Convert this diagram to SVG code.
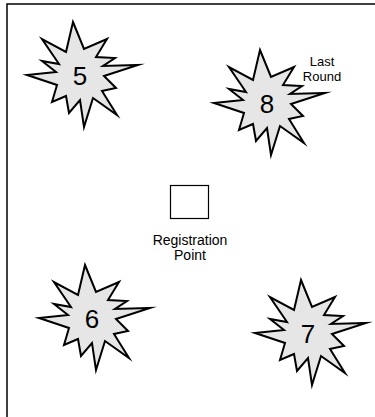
<svg xmlns="http://www.w3.org/2000/svg" width="375" height="417" viewBox="0 0 375 417">
<style>
.star{fill:#e6e6e6;stroke:#000;stroke-width:2;stroke-linejoin:miter;stroke-miterlimit:20}
.num{font-family:"Liberation Sans",Arial,sans-serif;font-size:26px;text-anchor:middle;fill:#000}
.lbl{font-family:"Liberation Sans",Arial,sans-serif;font-size:13px;text-anchor:middle;fill:#000}
.reg{font-family:"Liberation Sans",Arial,sans-serif;font-size:14px;text-anchor:middle;fill:#000}
</style>
<defs>
<path id="burst" d="M-7,-53 L4,-26 L27,-36 L16,-18 L35,-17 L23,-9 L58,-10 L24,1 L36,13 L22,16 L37,40 L13,23 L4,52 L0,25 L-11,38 L-14,21 L-28,27 L-23,10 L-53,0 L-24,-3 L-38,-14 L-21,-11 L-38,-36 L-14,-23 Z"/>
</defs>
<rect x="7" y="4" width="400" height="440" fill="#fff" stroke="#000" stroke-width="1.5"/>
<g id="connectors"></g>
<g id="n5"><use href="#burst" class="star" transform="translate(80,75)"/><text class="num" x="80" y="84.5">5</text></g>
<g id="n8"><use href="#burst" class="star" transform="translate(267,103)"/><text class="num" x="267" y="112.5">8</text></g>
<g id="n6"><use href="#burst" class="star" transform="translate(92,318)"/><text class="num" x="92" y="327.5">6</text></g>
<g id="n7"><use href="#burst" class="star" transform="translate(308,333)"/><text class="num" x="308" y="342.5">7</text></g>
<g id="lastround"><text class="lbl" x="322" y="66">Last</text><text class="lbl" x="322" y="81">Round</text></g>
<g id="reg"><rect x="170.5" y="185.5" width="38" height="33" fill="#fff" stroke="#000" stroke-width="1.2"/><text class="reg" x="190" y="245">Registration</text><text class="reg" x="190" y="260">Point</text></g>
</svg>
